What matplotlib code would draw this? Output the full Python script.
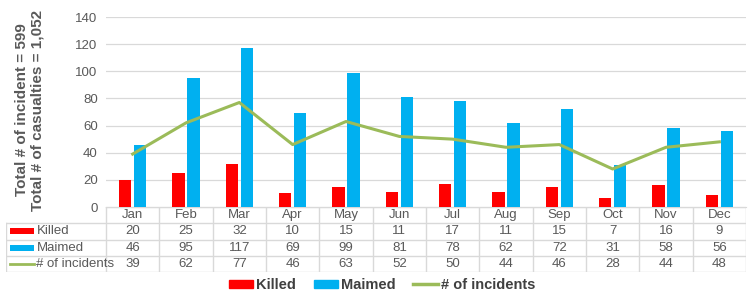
import matplotlib.pyplot as plt
from matplotlib.patches import Rectangle
from matplotlib.lines import Line2D
import numpy as np

plt.rcParams["font.family"] = ["Liberation Sans", "DejaVu Sans"]

months = ["Jan", "Feb", "Mar", "Apr", "May", "Jun", "Jul", "Aug", "Sep", "Oct", "Nov", "Dec"]
killed = [20, 25, 32, 10, 15, 11, 17, 11, 15, 7, 16, 9]
maimed = [46, 95, 117, 69, 99, 81, 78, 62, 72, 31, 58, 56]
incidents = [39, 62, 77, 46, 63, 52, 50, 44, 46, 28, 44, 48]
series_names = ["Killed", "Maimed", "# of incidents"]

RED = "#ff0000"
BLUE = "#00b0f0"
GREEN = "#9bbb59"
GRID = "#d9d9d9"
TXT = "#595959"

W, H = 749, 296
fig = plt.figure(figsize=(W / 100, H / 100), dpi=100)

# main plot
ax = fig.add_axes([106 / W, 1 - 207 / H, 640 / W, 190 / H])
x = np.arange(len(months))
ax.bar(x - 0.14, killed, width=0.23, color=RED, zorder=3)
ax.bar(x + 0.14, maimed, width=0.23, color=BLUE, zorder=3)
ax.plot(x, incidents, color=GREEN, lw=2.2, zorder=4)
ax.set_xlim(-0.5, len(months) - 0.5)
ax.set_ylim(0, 140)
ax.set_yticks(range(0, 141, 20))
ax.yaxis.grid(True, color=GRID, lw=0.9)
ax.set_axisbelow(True)
for s in ["top", "right", "left"]:
    ax.spines[s].set_visible(False)
ax.spines["bottom"].set_color(GRID)
ax.set_xticks([])
ax.tick_params(axis="y", length=0, labelsize=9.5, labelcolor=TXT, pad=6)
fig.text(30 / W, 1 - 110 / H, "Total # of incident = 599\nTotal # of casualties = 1,052",
         rotation=90, ha="center", va="center", fontsize=11, fontweight="bold",
         color=TXT, linespacing=1.15)

# data table
axt = fig.add_axes([6 / W, 1 - 272 / H, 740 / W, 65 / H])
x0 = -0.5 - 100 / (640 / 12)
axt.set_xlim(x0, 11.5)
axt.set_ylim(4, 0)
axt.axis("off")
for r in range(1, 5):
    axt.plot([x0, 11.5], [r, r], color=GRID, lw=1)
axt.plot([-0.5, 11.5], [0, 0], color=GRID, lw=1)
for i in range(13):
    axt.plot([i - 0.5, i - 0.5], [0, 4], color=GRID, lw=1)
axt.plot([x0, x0], [1, 4], color=GRID, lw=1)
for i, m in enumerate(months):
    axt.text(i, 0.5, m, ha="center", va="center", fontsize=9.5, color=TXT)
    for r, vals in enumerate([killed, maimed, incidents]):
        axt.text(i, r + 1.5, str(vals[i]), ha="center", va="center", fontsize=9.5, color=TXT)
kx = x0 + 0.08
for r, (name, col) in enumerate(zip(series_names, [RED, BLUE, GREEN])):
    if r < 2:
        axt.add_patch(Rectangle((kx, r + 1.5 - 0.18), 0.45, 0.36, color=col, lw=0, zorder=2))
    else:
        axt.plot([kx, kx + 0.45], [r + 1.5, r + 1.5], color=col, lw=2)
    axt.text(kx + 0.49, r + 1.5, name, ha="left", va="center", fontsize=9.5, color=TXT, zorder=3)

# legend
handles = [Rectangle((0, 0), 1, 1, color=RED), Rectangle((0, 0), 1, 1, color=BLUE),
           Line2D([0], [0], color=GREEN, lw=2.5)]
fig.legend(handles, series_names, loc="center", bbox_to_anchor=(382 / W, 1 - 285 / H),
           ncol=3, frameon=False, handlelength=1.7, handleheight=0.5, columnspacing=1.2,
           handletextpad=0.2, prop={"weight": "bold", "size": 10.5}, labelcolor="#404040")

fig.savefig("out.png", dpi=100)
